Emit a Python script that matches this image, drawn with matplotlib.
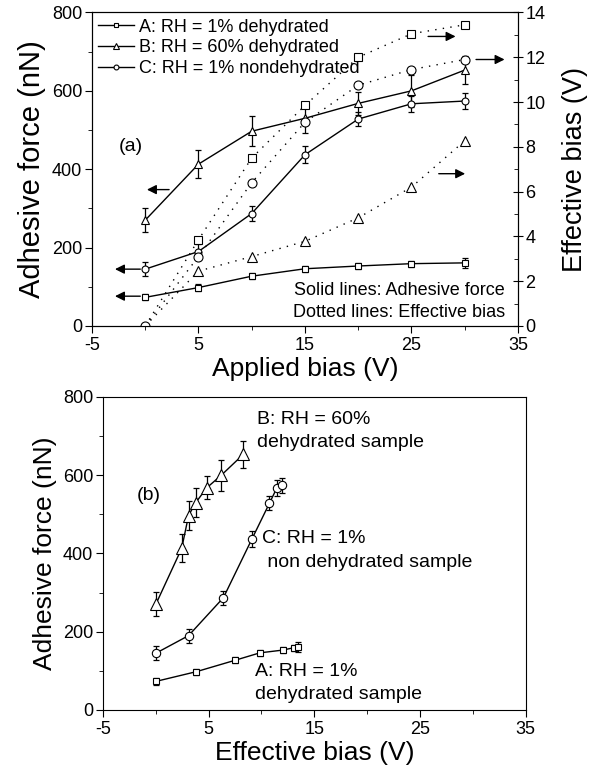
import matplotlib
matplotlib.use("Agg")
import matplotlib.pyplot as plt
from matplotlib.ticker import MultipleLocator

plt.rcParams['font.family'] = ['Liberation Sans', 'DejaVu Sans']
plt.rcParams['axes.unicode_minus'] = False

# applied bias (V)
applied = [0, 5, 10, 15, 20, 25, 30]

# adhesive force (nN) and errors
force_A = [73, 98, 127, 146, 153, 159, 161]
err_A = [8, 8, 8, 8, 8, 8, 12]
force_B = [270, 413, 497, 530, 568, 600, 653]
err_B = [31, 36, 38, 38, 30, 40, 35]
force_C = [145, 190, 287, 437, 528, 567, 574]
err_C = [18, 18, 18, 21, 18, 20, 20]

# effective bias (V)
eff_A = [0, 3.85, 7.5, 9.85, 12.0, 13.05, 13.45]
eff_B = [0, 2.45, 3.1, 3.78, 4.83, 6.2, 8.27]
eff_C = [0, 3.1, 6.4, 9.1, 10.75, 11.45, 11.9]

labels = ['A: RH = 1% dehydrated', 'B: RH = 60% dehydrated',
          'C: RH = 1% nondehydrated']

fig = plt.figure(figsize=(5.93, 7.75), dpi=100)


def set_ticks(ax):
    ax.set_xlim(-5, 35)
    ax.set_ylim(0, 800)
    ax.xaxis.set_major_locator(MultipleLocator(10, offset=5))
    ax.xaxis.set_minor_locator(MultipleLocator(5))
    ax.yaxis.set_major_locator(MultipleLocator(200))
    ax.yaxis.set_minor_locator(MultipleLocator(100))
    ax.tick_params(which='major', direction='out', length=5, labelsize=13, pad=2)
    ax.tick_params(which='minor', direction='out', length=3)
    ax.tick_params(axis='x', pad=3)


## ---- panel (a) ----
ax1 = fig.add_axes([0.1551, 0.5794, 0.7184, 0.4045])
ax2 = ax1.twinx()

sty = dict(color='k', lw=1.0, mfc='white', mec='k', mew=0.8)
handles = []
for f, e, m, ms, lab in [(force_A, err_A, 's', 4.5, labels[0]),
                         (force_B, err_B, '^', 5.5, labels[1]),
                         (force_C, err_C, 'o', 5.0, labels[2])]:
    ax1.errorbar(applied, f, yerr=e, fmt='none', ecolor='k', elinewidth=0.9,
                 capsize=2.5, capthick=0.9)
    h, = ax1.plot(applied, f, marker=m, ms=ms, label=lab, **sty)
    handles.append(h)

dot = (0, (1, 4.5))
ax2.plot(applied, eff_A, ls=dot, marker='s', ms=6, markevery=range(1, 7), **sty)
ax2.plot(applied, eff_B, ls=dot, marker='^', ms=7, markevery=range(1, 7), **sty)
ax2.plot(applied, eff_C, ls=dot, marker='o', ms=6.5, **sty)

set_ticks(ax1)
ax2.set_ylim(0, 14)
ax2.yaxis.set_major_locator(MultipleLocator(2))
ax2.yaxis.set_minor_locator(MultipleLocator(1))
ax2.tick_params(which='major', direction='inout', length=7, labelsize=13, pad=2)
ax2.tick_params(which='minor', direction='in', length=3)

ax1.set_xlabel('Applied bias (V)', fontsize=19, labelpad=2)
ax1.set_ylabel('Adhesive force (nN)', fontsize=21, labelpad=4)
ax2.set_ylabel('Effective bias (V)', fontsize=19.5, labelpad=12)

ax1.legend(handles=handles, loc='upper left', bbox_to_anchor=(0, 1),
           frameon=False, fontsize=13, handlelength=2, handletextpad=0.25,
           labelspacing=0.2, borderaxespad=0.15, borderpad=0.2,
           markerscale=0.7)

ax1.text(-2.5, 459, '(a)', fontsize=14, va='center')
ax1.text(33.8, 90, 'Solid lines: Adhesive force', fontsize=13,
         ha='right', va='center')
ax1.text(33.8, 34, 'Dotted lines: Effective bias', fontsize=13,
         ha='right', va='center')

arr = dict(arrowstyle='-|>', color='k', lw=1.0, mutation_scale=14)
ax1.annotate('', xy=(-0.1, 348), xytext=(2.5, 348), arrowprops=arr)
ax1.annotate('', xy=(-3.1, 145), xytext=(-0.2, 145), arrowprops=arr)
ax1.annotate('', xy=(-3.1, 76), xytext=(-0.2, 76), arrowprops=arr)
ax2.annotate('', xy=(29.4, 12.93), xytext=(26.3, 12.93), arrowprops=arr)
ax2.annotate('', xy=(34.0, 11.9), xytext=(30.8, 11.9), arrowprops=arr)
ax2.annotate('', xy=(30.3, 6.8), xytext=(27.3, 6.8), arrowprops=arr)

## ---- panel (b) ----
ax3 = fig.add_axes([0.1737, 0.0839, 0.7125, 0.4039])
for x, f, e, m, ms in [(eff_A, force_A, err_A, 's', 5),
                       (eff_B, force_B, err_B, '^', 8),
                       (eff_C, force_C, err_C, 'o', 6)]:
    ax3.errorbar(x, f, yerr=e, fmt='none', ecolor='k', elinewidth=0.9,
                 capsize=2.5, capthick=0.9)
    ax3.plot(x, f, marker=m, ms=ms, **sty)

set_ticks(ax3)
ax3.set_xlabel('Effective bias (V)', fontsize=19, labelpad=2)
ax3.set_ylabel('Adhesive force (nN)', fontsize=19, labelpad=4)

ax3.text(-1.8, 547, '(b)', fontsize=14, va='center')
ax3.text(9.6, 743, 'B: RH = 60%', fontsize=14, va='center')
ax3.text(9.6, 683, 'dehydrated sample', fontsize=14, va='center')
ax3.text(10.05, 439, 'C: RH = 1%', fontsize=14, va='center')
ax3.text(10.05, 377, ' non dehydrated sample', fontsize=14, va='center')
ax3.text(9.35, 99, 'A: RH = 1%', fontsize=14, va='center')
ax3.text(9.35, 39, 'dehydrated sample', fontsize=14, va='center')

plt.savefig('out.png', dpi=100)
